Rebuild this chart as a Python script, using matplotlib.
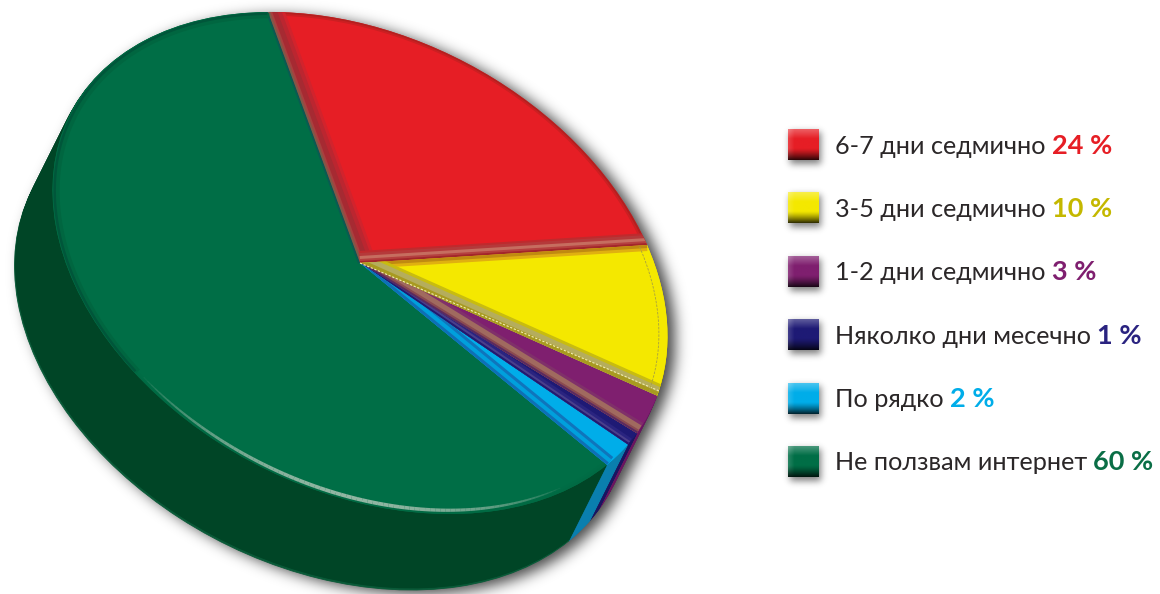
import numpy as np
import matplotlib
matplotlib.use("Agg")
import matplotlib.pyplot as plt
from matplotlib.collections import LineCollection
from matplotlib.colors import to_rgb, to_hex
from matplotlib.transforms import Affine2D

categories = ["6-7 дни седмично", "3-5 дни седмично", "1-2 дни седмично",
              "Няколко дни месечно", "По рядко", "Не ползвам интернет"]
values = [24, 10, 3, 1, 2, 60]
face_colors = ["#e61e25", "#f4e800", "#7f1f6f", "#1e1a75", "#00ade9", "#006e46"]
rim_colors = ["#b3201f", "#f4e800", "#7f1f6f", "#1e1a75", "#00ade9", "#006a43"]
side_colors = ["#8f1418", "#a89e00", "#6a1560", "#1a1560", "#0a7fae", "#004526"]
pct_colors = ["#e61e25", "#c4b800", "#7f1f6f", "#2a2380", "#00ade9", "#0a6e46"]

W, H = 1160, 594
PX = 72 / 100  # one pixel in points

# the pie is a flat circle seen at an angle, mapped to pixels
PROJ = np.array([[293.4, -92.0, 360.0], [-2.2, -251.0, 263.0], [0, 0, 1]])
DEPTH = (-38, 76)

fig = plt.figure(figsize=(W / 100, H / 100), dpi=100)
ax = fig.add_axes([0, 0, 1, 1])


def pie_layer(colors, radius=1.0, shift=(0, 0), zorder=2):
    tf = Affine2D(PROJ).translate(*shift) + ax.transData
    wedges, _ = ax.pie(values, colors=colors, startangle=90, counterclock=False,
                       radius=radius, wedgeprops=dict(linewidth=0.6 if shift != (0, 0) else 0))
    for w, c in zip(wedges, colors):
        w.set_transform(tf)
        w.set_zorder(zorder)
        w.set_edgecolor(c)
    return wedges


def gauss_blur(a, sigma):
    # pad first so the blur does not wrap round the picture
    pad = 60
    b = np.pad(a, pad)
    fy = np.fft.fftfreq(b.shape[0])[:, None]
    fx = np.fft.rfftfreq(b.shape[1])[None, :]
    g = np.exp(-2 * (np.pi * sigma) ** 2 * (fx ** 2 + fy ** 2))
    return np.fft.irfft2(np.fft.rfft2(b) * g, s=b.shape)[pad:-pad, pad:-pad]


# soft shadow under the pie and the legend squares
yy, xx = np.mgrid[0:H, 0:W] + 0.5
inv = np.linalg.inv(PROJ)
mask = np.zeros((H, W))
for s in np.linspace(0, 1, 40):
    dx = xx - PROJ[0, 2] - s * DEPTH[0] - 8
    dy = yy - PROJ[1, 2] - s * DEPTH[1] - 4
    X = inv[0, 0] * dx + inv[0, 1] * dy
    Y = inv[1, 0] * dx + inv[1, 1] * dy
    mask[X ** 2 + Y ** 2 <= 1] = 1
shadow = 0.72 * gauss_blur(mask, 7)

legend_y = [144.5 + 63.4 * i for i in range(len(categories))]
mask2 = np.zeros((H, W))
for y0 in legend_y:
    mask2[int(y0 - 12):int(y0 + 20), 790:821] = 1
shadow = np.maximum(shadow, 0.5 * gauss_blur(mask2, 3.5))

rgba = np.zeros((H, W, 4))
rgba[..., 3] = np.clip(shadow, 0, 1)
ax.imshow(rgba, extent=(0, W, H, 0), zorder=0)

# side of the pie, swept from the bottom up
n_steps = abs(DEPTH[1])
for i in range(n_steps, 0, -1):
    s = i / n_steps
    cols = side_colors
    if i > n_steps - 2:
        cols = side_colors[:-1] + ["#0a5a38"]
    pie_layer(cols, shift=(s * DEPTH[0], s * DEPTH[1]), zorder=1 + (n_steps - i) * 0.001)

# top face with a thin bevelled rim
clip_full = pie_layer(face_colors, radius=1.0, zorder=1.8)
pie_layer(rim_colors, radius=1.0, zorder=2)
pie_layer([to_hex(0.5 * np.array(to_rgb(a)) + 0.5 * np.array(to_rgb(b)))
           for a, b in zip(rim_colors, face_colors)], radius=0.993, zorder=2.1)
pie_layer(face_colors, radius=0.985, zorder=2.2)

pie_tf = Affine2D(PROJ) + ax.transData


def strip(wedge_i, theta, ramp, zorder):
    # nested lines along a slice border, clipped to that slice
    c, s = np.cos(np.radians(theta)), np.sin(np.radians(theta))
    for k, (wid, col) in enumerate(ramp):
        ln, = ax.plot([0, c], [0, s], transform=pie_tf, color=col, lw=2 * wid * PX,
                      solid_capstyle="butt", zorder=zorder + k * 0.01)
        ln.set_clip_path(clip_full[wedge_i])


red, yel, pur, nav, blu, gre = range(6)
strip(red, clip_full[red].theta2, [(16, "#d2232c"), (13, "#bb2630"), (9, "#a62a32"), (4, "#a8403f"), (2, "#7f5a48")], 3)
strip(red, clip_full[red].theta1, [(12, "#bf2a2d"), (10, "#b5393a"), (7, "#c66d5f"), (4, "#b5403f"), (2, "#a3262b")], 3.1)
strip(yel, clip_full[yel].theta2, [(6, "#e0b010"), (3, "#c08a10")], 3.2)
strip(yel, clip_full[yel].theta1, [(12, "#c8bc10"), (9, "#b5ad5c"), (4, "#a89a20")], 3.3)
strip(pur, clip_full[pur].theta1, [(12, "#80306a"), (9, "#a06a5f"), (4, "#8a4a50"), (2, "#5a2a60")], 3.4)
strip(nav, clip_full[nav].theta1, [(7, "#2a2480"), (4, "#4a3f8c"), (2, "#231a70")], 3.5)
strip(blu, clip_full[blu].theta1, [(10, "#0f75bc"), (7, "#00a0dc"), (3, "#0f6fb5")], 3.6)
strip(gre, clip_full[gre].theta1, [(2, "#0a5a52")], 3.7)

# dashed light line in the yellow bevel and near its rim
th = clip_full[yel].theta1 + 1.3
ax.plot([0, np.cos(np.radians(th))], [0, np.sin(np.radians(th))], transform=pie_tf,
        color="#f2eeb0", lw=0.8, ls=(0, (2, 1.5)), zorder=3.9)
arc = np.radians(np.linspace(clip_full[yel].theta1, clip_full[yel].theta2, 60))
ax.plot(0.972 * np.cos(arc), 0.972 * np.sin(arc), transform=pie_tf,
        color="#a8a040", lw=0.6, ls=(0, (3, 1.5)), zorder=3.9)

# darker band on the far edge of the green slice
arc = np.radians(np.linspace(clip_full[gre].theta1 + 360.5, 205, 120))
for r, wid, col in [(0.985, 5, "#006640"), (0.993, 2.5, "#00563a")]:
    ax.plot(r * np.cos(arc), r * np.sin(arc), transform=pie_tf, color=col, lw=wid * PX, zorder=3.8)

# pale highlight on the front edge
phi = np.radians(np.linspace(206, 295, 90))
rr = 0.985
pts = np.column_stack([rr * np.cos(phi), rr * np.sin(phi)])
segs = np.stack([pts[:-1], pts[1:]], axis=1)
taper = np.sin(np.linspace(0, np.pi, len(segs))) ** 0.7
seg_col = np.zeros((len(segs), 4))
seg_col[:, :3] = to_rgb("#a3bfae")
seg_col[:, 3] = 0.9 * taper
lc = LineCollection(segs, colors=seg_col, linewidths=0.4 + 3.2 * taper * PX, transform=pie_tf, zorder=4)
ax.add_collection(lc, autolim=False)

# legend
gy, gx = np.mgrid[0:1:32j, 0:1:32j]
light = (np.clip((0.3 - gy) / 0.3, 0, 1) * 0.28 + np.clip((0.2 - gx) / 0.2, 0, 1) * 0.15)[..., None]
dark = (np.clip((gy - 0.62) / 0.38, 0, 1) ** 1.3 * 0.78)[..., None]
txt_font = ["Lato", "Open Sans", "DejaVu Sans"]
for y0, name, val, col, pcol in zip(legend_y, categories, values, face_colors, pct_colors):
    base = np.array(to_rgb(col))[None, None, :]
    img = (base * (1 - light) + light) * (1 - dark)
    ax.imshow(img, extent=(788, 819, y0 + 15.5, y0 - 15.5), zorder=5)
    t = ax.text(835, y0 + 9, name, fontsize=18.2, family=txt_font, fontweight="normal",
                color="#2b2728", va="baseline", ha="left", zorder=6)
    ax.annotate(f"{val} %", xy=(1, y0 + 9), xycoords=(t, "data"), xytext=(6, 0), textcoords="offset pixels",
                fontsize=19.5, family=txt_font, fontweight="bold", color=pcol,
                va="baseline", ha="left", zorder=6)

ax.set_xlim(0, W)
ax.set_ylim(H, 0)
ax.axis("off")
plt.savefig("out.png", dpi=100)
